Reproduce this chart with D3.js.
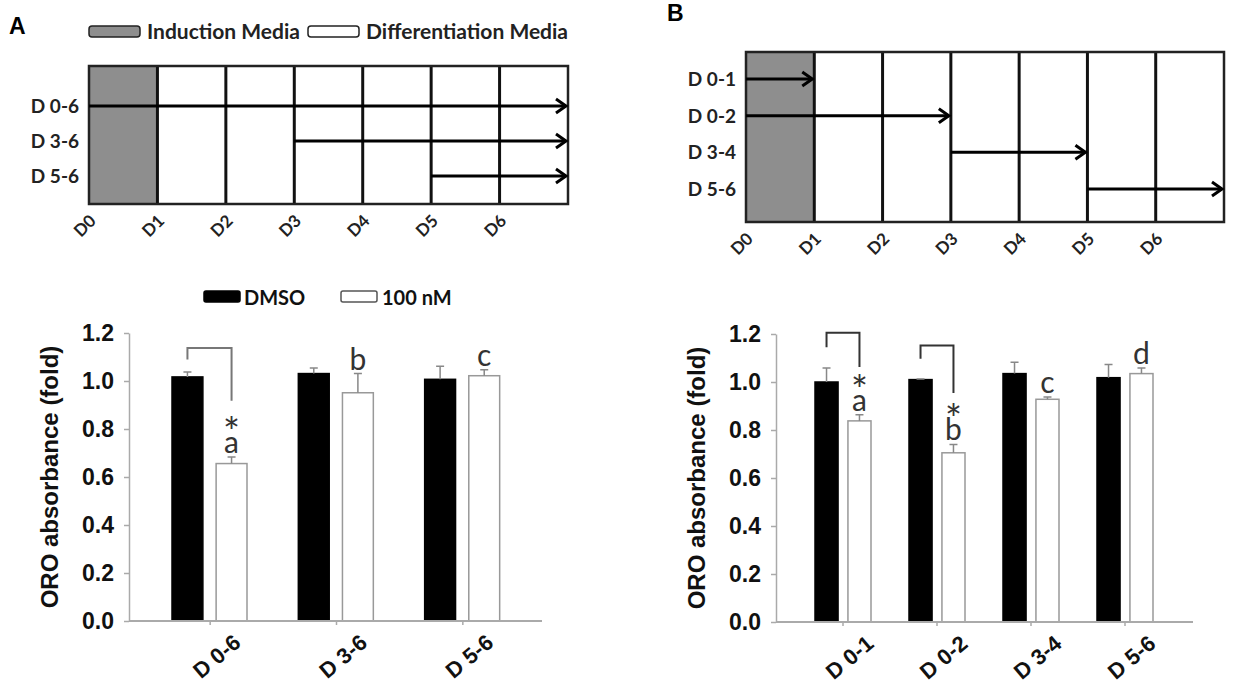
<!DOCTYPE html>
<html>
<head>
<meta charset="utf-8">
<script src="https://cdn.jsdelivr.net/npm/d3@7"></script>
<style>
body { margin: 0; background: #fff; }
</style>
</head>
<body>
<svg id="fig" width="1233" height="686"></svg>
<script>
const svg = d3.select('#fig')

const days = ['D0', 'D1', 'D2', 'D3', 'D4', 'D5', 'D6']
const media = ['Induction Media', 'Differentiation Media']

// timeline A
const rowsA = ['D 0-6', 'D 3-6', 'D 5-6']
const fromA = [0, 3, 5]
const toA = [7, 7, 7]
// timeline B
const rowsB = ['D 0-1', 'D 0-2', 'D 3-4', 'D 5-6']
const fromB = [0, 0, 3, 5]
const toB = [1, 3, 5, 7]

const series = ['DMSO', '100 nM']
const yTicks = [0, 0.2, 0.4, 0.6, 0.8, 1.0, 1.2]

// bars A
const groupsA = ['D 0-6', 'D 3-6', 'D 5-6']
const dmsoA = [1.017, 1.031, 1.007]
const dmsoErrA = [0.02, 0.023, 0.054]
const nmA = [0.656, 0.951, 1.022]
const nmErrA = [0.027, 0.08, 0.025]
const lettersA = ['a', 'b', 'c']
const starsA = [true, false, false]
// group, top, left end, right end (fold)
const bracketsA = [[0, 1.137, 1.09, 0.918]]

// bars B
const groupsB = ['D 0-1', 'D 0-2', 'D 3-4', 'D 5-6']
const dmsoB = [1.0, 1.01, 1.035, 1.018]
const dmsoErrB = [0.058, 0.003, 0.047, 0.055]
const nmB = [0.838, 0.705, 0.928, 1.035]
const nmErrB = [0.026, 0.035, 0.01, 0.023]
const lettersB = ['a', 'b', 'c', 'd']
const starsB = [true, true, false, false]
const bracketsB = [[0, 1.205, 1.145, 1.062], [1, 1.152, 1.097, 0.954]]

const calibri = 'Lato, "Open Sans", sans-serif'
const arial = '"Liberation Sans", Arial, sans-serif'
const narrow = '"Liberation Sans Narrow", "Arial Narrow", Lato, sans-serif'

// panel letters
svg.append('text').attr('x', 9).attr('y', 34).text('A')
	.attr('font-family', arial).attr('font-weight', 'bold').attr('font-size', 23)
svg.append('text').attr('x', 667).attr('y', 21).text('B')
	.attr('font-family', arial).attr('font-weight', 'bold').attr('font-size', 23)

// media legend
const mediaLeg = svg.append('g')
const mediaSw = [89, 308]
const mediaTx = [147, 366]
media.forEach((m, i) => {
	mediaLeg.append('rect')
		.attr('x', mediaSw[i]).attr('y', 26).attr('width', 51).attr('height', 11).attr('rx', 3)
		.attr('fill', i === 0 ? '#8e8e8e' : '#fff').attr('stroke', '#222').attr('stroke-width', 1.5)
	mediaLeg.append('text').attr('x', mediaTx[i]).attr('y', 39).text(m)
		.attr('font-family', calibri).attr('font-weight', 'bold').attr('font-size', 21).attr('fill', '#222')
})

function timeline(o) {
	const x = d3.scaleLinear().domain([0, 7]).range([o.left, o.right])
	const y = d3.scalePoint().domain(o.rows).range(o.rowRange)
	const g = svg.append('g')
	g.append('rect')
		.attr('x', x(0)).attr('y', o.top)
		.attr('width', x(1) - x(0)).attr('height', o.bottom - o.top)
		.attr('fill', '#8e8e8e')
	g.selectAll('.day')
		.data(d3.range(1, 7))
		.join('line')
		.attr('x1', d => x(d)).attr('x2', d => x(d))
		.attr('y1', o.top).attr('y2', o.bottom)
		.attr('stroke', '#111').attr('stroke-width', 3)
	g.append('rect')
		.attr('x', x(0)).attr('y', o.top)
		.attr('width', x(7) - x(0)).attr('height', o.bottom - o.top)
		.attr('fill', 'none').attr('stroke', '#222').attr('stroke-width', 2.5)

	const arrows = o.rows.map((r, i) => ({ r, from: o.from[i], to: o.to[i] }))
	const ag = g.selectAll('.arrow').data(arrows).join('g')
	ag.append('line')
		.attr('x1', d => x(d.from)).attr('x2', d => x(d.to) - 2)
		.attr('y1', d => y(d.r)).attr('y2', d => y(d.r))
		.attr('stroke', '#000').attr('stroke-width', 3)
	ag.append('path')
		.attr('d', d => `M${x(d.to) - 12},${y(d.r) - 7} L${x(d.to) - 2},${y(d.r)} L${x(d.to) - 12},${y(d.r) + 7}`)
		.attr('fill', 'none').attr('stroke', '#000').attr('stroke-width', 3)

	g.selectAll('.rowlab')
		.data(o.rows)
		.join('text')
		.attr('x', x(0) - 10).attr('y', d => y(d) + 7)
		.attr('text-anchor', 'end')
		.attr('font-family', calibri).attr('font-weight', 'bold').attr('font-size', 19).attr('fill', '#222')
		.text(d => d)

	g.selectAll('.daylab')
		.data(days)
		.join('text')
		.attr('transform', (d, i) => `translate(${x(i) + 8},${o.bottom + 18}) rotate(-45)`)
		.attr('text-anchor', 'end')
		.attr('font-family', calibri).attr('font-weight', 'bold').attr('font-size', 17).attr('fill', '#222')
		.text(d => d)
}

timeline({ left: 89, right: 568, top: 66, bottom: 204, rows: rowsA, rowRange: [106, 176], from: fromA, to: toA })
timeline({ left: 746, right: 1224, top: 52, bottom: 222, rows: rowsB, rowRange: [79, 189], from: fromB, to: toB })

function bars(o) {
	const y = d3.scaleLinear().domain([0, 1.2]).range([o.y0, o.y1])
	const x0 = d3.scaleBand().domain(o.groups).range(o.bandRange)
	const x1 = d3.scaleBand().domain(series).range(o.inner).paddingInner(0.3)
	const g = svg.append('g')

	const ya = g.append('g')
		.attr('transform', `translate(${o.axisX},0)`)
		.call(d3.axisLeft(y).tickValues(yTicks).tickFormat(d3.format('.1f')).tickSize(5).tickSizeOuter(0).tickPadding(10))
	ya.select('.domain').attr('stroke', '#aaa').attr('stroke-width', 1.5)
	ya.selectAll('.tick line').attr('stroke', '#aaa').attr('stroke-width', 1.5)
	ya.selectAll('.tick text')
		.attr('font-family', arial).attr('font-weight', 'bold').attr('font-size', 23).attr('fill', '#111')

	g.append('text')
		.attr('transform', `translate(${o.titleX},${(o.y0 + o.y1) / 2}) rotate(-90)`)
		.attr('text-anchor', 'middle')
		.attr('font-family', arial).attr('font-weight', 'bold').attr('font-size', 24).attr('fill', '#111')
		.text('ORO absorbance (fold)')

	const rows = []
	o.groups.forEach((gr, i) => {
		rows.push({ g: gr, s: series[0], v: o.dmso[i], e: o.dmsoErr[i] })
		rows.push({ g: gr, s: series[1], v: o.nm[i], e: o.nmErr[i] })
	})
	const cx = d => x0(d.g) + x1(d.s) + x1.bandwidth() / 2

	g.selectAll('.bar')
		.data(rows)
		.join('rect')
		.attr('x', d => x0(d.g) + x1(d.s))
		.attr('y', d => y(d.v))
		.attr('width', x1.bandwidth())
		.attr('height', d => y(0) - y(d.v))
		.attr('fill', d => d.s === 'DMSO' ? '#000' : '#fff')
		.attr('stroke', d => d.s === 'DMSO' ? '#000' : '#999')
		.attr('stroke-width', 1.5)

	g.selectAll('.err')
		.data(rows)
		.join('path')
		.attr('d', d => `M${cx(d)},${y(d.v)} V${y(d.v + d.e)} M${cx(d) - 4},${y(d.v + d.e)} H${cx(d) + 4}`)
		.attr('fill', 'none').attr('stroke', '#888').attr('stroke-width', 1.5)

	// x axis
	g.append('line')
		.attr('x1', o.axisX).attr('x2', o.axisEnd)
		.attr('y1', y(0)).attr('y2', y(0))
		.attr('stroke', '#aaa').attr('stroke-width', 2)
	g.selectAll('.xtick')
		.data(o.groups)
		.join('line')
		.attr('x1', d => x0(d) + x0.bandwidth() / 2).attr('x2', d => x0(d) + x0.bandwidth() / 2)
		.attr('y1', y(0)).attr('y2', y(0) + 4)
		.attr('stroke', '#aaa').attr('stroke-width', 1.5)
	g.selectAll('.xlab')
		.data(o.groups)
		.join('text')
		.attr('transform', d => `translate(${x0(d) + x0.bandwidth() / 2 + 32},${y(0) + 24}) rotate(-40)`)
		.attr('text-anchor', 'end')
		.attr('font-family', arial).attr('font-weight', 'bold').attr('font-size', 22).attr('fill', '#111')
		.text(d => d)

	// significance letters, with a star line above where significant
	const nmRows = rows.filter(d => d.s === series[1])
	const lab = g.selectAll('.letter')
		.data(nmRows)
		.join('text')
		.attr('x', d => cx(d))
		.attr('y', d => y(d.v + d.e) - 4)
		.attr('text-anchor', 'middle')
		.attr('font-family', narrow).attr('fill', '#333')
	lab.each(function (d, i) {
		const t = d3.select(this)
		if (o.stars[i]) {
			t.append('tspan').attr('x', cx(d)).attr('dy', -6).attr('font-size', 40).text('*')
			t.append('tspan').attr('x', cx(d)).attr('dy', 6).attr('font-size', 30).text(o.letters[i])
		} else {
			t.append('tspan').attr('font-size', 30).text(o.letters[i])
		}
	})

	g.selectAll('.bracket')
		.data(o.brackets)
		.join('path')
		.attr('d', b => {
			const gr = o.groups[b[0]]
			const xl = cx({ g: gr, s: series[0] })
			const xr = cx({ g: gr, s: series[1] })
			return `M${xl},${y(b[2])} V${y(b[1])} H${xr} V${y(b[3])}`
		})
		.attr('fill', 'none').attr('stroke', o.bracketColor).attr('stroke-width', 2)
}

bars({
	groups: groupsA, dmso: dmsoA, dmsoErr: dmsoErrA, nm: nmA, nmErr: nmErrA,
	letters: lettersA, stars: starsA, brackets: bracketsA,
	axisX: 129, axisEnd: 542, bandRange: [147, 526], inner: [25, 100],
	y0: 621, y1: 333, titleX: 58, bracketColor: '#777'
})
bars({
	groups: groupsB, dmso: dmsoB, dmsoErr: dmsoErrB, nm: nmB, nmErr: nmErrB,
	letters: lettersB, stars: starsB, brackets: bracketsB,
	axisX: 776, axisEnd: 1193, bandRange: [796, 1172], inner: [19, 75],
	y0: 622, y1: 334, titleX: 705, bracketColor: '#333'
})

// series legend (panel A)
const legX = [204, 341]
const legT = [244, 382]
series.forEach((s, i) => {
	svg.append('rect')
		.attr('x', legX[i]).attr('y', 291).attr('width', 36).attr('height', 11).attr('rx', 2)
		.attr('fill', i === 0 ? '#000' : '#fff').attr('stroke', i === 0 ? '#000' : '#555').attr('stroke-width', 1.5)
	svg.append('text').attr('x', legT[i]).attr('y', 305).text(s)
		.attr('font-family', calibri).attr('font-weight', 'bold').attr('font-size', 20).attr('fill', '#111')
})
</script>
</body>
</html>
